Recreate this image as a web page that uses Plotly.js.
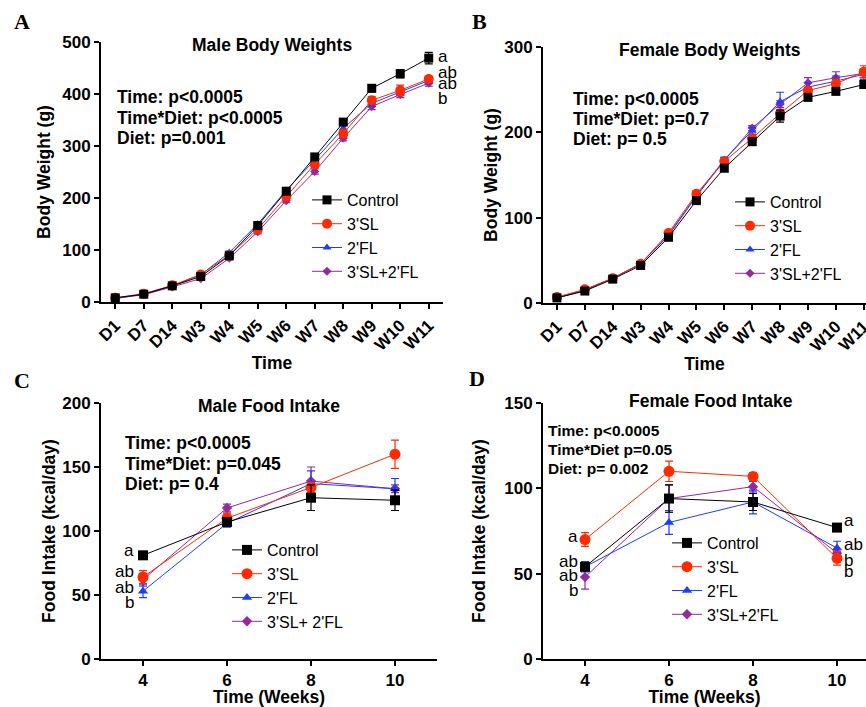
<!DOCTYPE html>
<html>
<head>
<meta charset="utf-8">
<script src="https://cdn.plot.ly/plotly-3.0.1.min.js"></script>
<style>
html,body{margin:0;padding:0;background:#fff;}
#chart{width:866px;height:707px;}
</style>
</head>
<body>
<div id="chart"></div>
<script>
// ---------- DATA ----------
var timeCats = ['D1','D7','D14','W3','W4','W5','W6','W7','W8','W9','W10','W11'];
var seriesNames = ['Control', "3'SL", "2'FL", "3'SL+2'FL"];
var seriesNamesC = ['Control', "3'SL", "2'FL", "3'SL+ 2'FL"];

// Panel A: Male body weights (g)
var maleBW_control = [8, 15, 31, 49, 89, 147, 213, 279, 346, 411, 439, 469];
var maleBW_3SL     = [8, 16, 32, 53, 90, 140, 203, 265, 324, 388, 407, 429];
var maleBW_2FL     = [7, 15, 31, 52, 95, 150, 215, 273, 334, 382, 404, 426];
var maleBW_combo   = [7, 14, 29, 45, 84, 135, 195, 251, 315, 376, 399, 421];
var maleBW_controlErr = [1, 1, 2, 2, 3, 4, 5, 5, 6, 7, 8, 11];
var maleBW_3SLErr     = [1, 1, 1, 2, 3, 4, 5, 6, 6, 7, 10, 5];
var maleBW_2FLErr     = [1, 1, 1, 2, 3, 4, 4, 5, 6, 6, 6, 6];
var maleBW_comboErr   = [1, 1, 1, 2, 3, 4, 4, 5, 5, 6, 6, 6];

// Panel B: Female body weights (g)
var femaleBW_control = [6, 14, 28, 44, 77, 120, 158, 189, 219, 241, 248, 256];
var femaleBW_3SL     = [7, 16, 29, 46, 82, 128, 166, 193, 222, 249, 257, 271];
var femaleBW_2FL     = [6, 15, 29, 46, 80, 126, 168, 202, 236, 253, 260, 268];
var femaleBW_combo   = [6, 15, 29, 46, 79, 125, 167, 205, 233, 258, 264, 269];
var femaleBW_controlErr = [1, 1, 1, 2, 3, 3, 4, 4, 7, 4, 3, 4];
var femaleBW_3SLErr     = [1, 1, 1, 2, 2, 3, 3, 4, 4, 4, 5, 7];
var femaleBW_2FLErr     = [1, 1, 1, 2, 2, 3, 3, 4, 11, 5, 6, 6];
var femaleBW_comboErr   = [1, 1, 1, 2, 2, 3, 3, 3, 4, 6, 7, 5];

// Panels C/D: food intake (kcal/day) by week
var weeks = [4, 6, 8, 10];
var maleFI_control = [81, 107, 126, 124];
var maleFI_3SL     = [64, 110, 134, 160];
var maleFI_2FL     = [53, 106, 137, 133];
var maleFI_combo   = [62, 118, 139, 133];
var maleFI_controlErr = [1, 2, 10, 8];
var maleFI_3SLErr     = [5, 4, 4, 11];
var maleFI_2FLErr     = [5, 3, 10, 8];
var maleFI_comboErr   = [5, 3, 11, 3];

var femaleFI_control = [54, 94, 92, 77];
var femaleFI_3SL     = [70, 110, 107, 59];
var femaleFI_2FL     = [54, 80, 92, 65];
var femaleFI_combo   = [48, 94, 101, 62];
var femaleFI_controlErr = [2, 8, 5, 2];
var femaleFI_3SLErr     = [4, 6, 2, 4];
var femaleFI_2FLErr     = [3, 7, 7, 4];
var femaleFI_comboErr   = [7, 8, 3, 2];

// Significance letters and the y-values they sit at
var maleBWLetters = ['a', 'ab', 'ab', 'b'];
var maleBWLetterY = [473, 442, 421, 392];
var maleFILetters = ['a', 'ab', 'ab', 'b'];
var maleFILetterY = [85, 68, 56, 44];
var femaleFILetters4 = ['a', 'ab', 'ab', 'b'];
var femaleFILetterY4 = [72, 57, 49, 40];
var femaleFILetters10 = ['a', 'ab', 'b', 'b'];
var femaleFILetterY10 = [81, 67, 58, 51];

var statsA = ['Time: p<0.0005', 'Time*Diet: p<0.0005', 'Diet: p=0.001'];
var statsB = ['Time: p<0.0005', 'Time*Diet: p=0.7', 'Diet: p= 0.5'];
var statsC = ['Time: p<0.0005', 'Time*Diet: p=0.045', 'Diet: p= 0.4'];
var statsD = ['Time: p<0.0005', 'Time*Diet p=0.05', 'Diet: p= 0.002'];

// ---------- STYLE ----------
var W = 866, H = 707;
var FONT = 'Liberation Sans, Arial, Helvetica, sans-serif';
var SERIF = 'Liberation Serif, Times New Roman, serif';
var stylesBW = [
  {color: '#000000', symbol: 'square', size: 9},
  {color: '#ff2a00', symbol: 'circle', size: 10},
  {color: '#1f3cff', symbol: 'triangle-up', size: 8},
  {color: '#932a9e', symbol: 'diamond', size: 7}
];
var stylesFI = [
  {color: '#000000', symbol: 'square', size: 10},
  {color: '#ff2a00', symbol: 'circle', size: 11},
  {color: '#1f3cff', symbol: 'triangle-up', size: 9},
  {color: '#932a9e', symbol: 'diamond', size: 8}
];
function px2x(p){ return p / W; }
function px2y(p){ return 1 - p / H; }

var traces = [];
function addPanel(xs, ys, errs, names, styles, xa, ya, legendId){
  // add in reverse so Control draws on top; legend order is reversed back
  for (var i = ys.length - 1; i >= 0; i--) {
    var s = styles[i];
    traces.push({
      type: 'scatter', mode: 'lines+markers',
      x: xs, y: ys[i], name: names[i],
      xaxis: xa, yaxis: ya, legend: legendId,
      line: {color: s.color, width: 1},
      marker: {color: s.color, symbol: s.symbol, size: s.size},
      error_y: {type: 'data', array: errs[i], visible: true, color: s.color, thickness: 1.2, width: 4},
      cliponaxis: false
    });
  }
}
addPanel(timeCats, [maleBW_control, maleBW_3SL, maleBW_2FL, maleBW_combo],
  [maleBW_controlErr, maleBW_3SLErr, maleBW_2FLErr, maleBW_comboErr], seriesNames, stylesBW, 'x', 'y', 'legend');
addPanel(timeCats, [femaleBW_control, femaleBW_3SL, femaleBW_2FL, femaleBW_combo],
  [femaleBW_controlErr, femaleBW_3SLErr, femaleBW_2FLErr, femaleBW_comboErr], seriesNames, stylesBW, 'x2', 'y2', 'legend2');
addPanel(weeks, [maleFI_control, maleFI_3SL, maleFI_2FL, maleFI_combo],
  [maleFI_controlErr, maleFI_3SLErr, maleFI_2FLErr, maleFI_comboErr], seriesNamesC, stylesFI, 'x3', 'y3', 'legend3');
addPanel(weeks, [femaleFI_control, femaleFI_3SL, femaleFI_2FL, femaleFI_combo],
  [femaleFI_controlErr, femaleFI_3SLErr, femaleFI_2FLErr, femaleFI_comboErr], seriesNames, stylesFI, 'x4', 'y4', 'legend4');

var tickFont = {family: FONT, size: 17, color: '#000', weight: 'bold'};
var titleFont = {family: FONT, size: 17.5, color: '#000', weight: 'bold'};
function axisBase(extra){
  var a = {
    showline: true, linewidth: 2, linecolor: '#000',
    ticks: 'outside', ticklen: 5, tickwidth: 2, tickcolor: '#000',
    showgrid: false, zeroline: false, tickfont: tickFont, fixedrange: true
  };
  for (var k in extra) a[k] = extra[k];
  return a;
}

var layout = {
  width: W, height: H,
  margin: {l: 0, r: 0, t: 0, b: 0},
  paper_bgcolor: '#fff', plot_bgcolor: 'rgba(0,0,0,0)',
  showlegend: true,
  xaxis: axisBase({domain: [px2x(101), px2x(443)], anchor: 'y', type: 'category',
    categoryarray: timeCats, range: [-0.5, 11.5], tickangle: -45,
    title: {text: 'Time', font: titleFont, standoff: 3}}),
  yaxis: axisBase({domain: [px2y(302), px2y(42)], anchor: 'x', range: [0, 500],
    tickvals: [0, 100, 200, 300, 400, 500],
    title: {text: 'Body Weight (g)', font: titleFont, standoff: 7}}),
  xaxis2: axisBase({domain: [px2x(543), 1], anchor: 'y2', type: 'category',
    categoryarray: timeCats, range: [-0.5, 11.08], tickangle: -45,
    title: {text: 'Time', font: titleFont, standoff: 3}}),
  yaxis2: axisBase({domain: [px2y(303), px2y(47)], anchor: 'x2', range: [0, 300],
    tickvals: [0, 100, 200, 300],
    title: {text: 'Body Weight (g)', font: titleFont}}),
  xaxis3: axisBase({domain: [px2x(101), px2x(437)], anchor: 'y3', range: [3, 11],
    tickvals: weeks,
    title: {text: 'Time (Weeks)', font: titleFont, standoff: 6}}),
  yaxis3: axisBase({domain: [px2y(659), px2y(403)], anchor: 'x3', range: [0, 200],
    tickvals: [0, 50, 100, 150, 200],
    title: {text: 'Food Intake (kcal/day)', font: titleFont}}),
  xaxis4: axisBase({domain: [px2x(543), 1], anchor: 'y4', range: [3, 10.69],
    tickvals: weeks,
    title: {text: 'Time (Weeks)', font: titleFont, standoff: 6}}),
  yaxis4: axisBase({domain: [px2y(659), px2y(403)], anchor: 'x4', range: [0, 150],
    tickvals: [0, 50, 100, 150],
    title: {text: 'Food Intake (kcal/day)', font: titleFont, standoff: 14}}),
  annotations: []
};

function legendCfg(xPx, yPx){
  return {
    x: px2x(xPx), y: px2y(yPx), xanchor: 'left', yanchor: 'middle',
    traceorder: 'reversed', bgcolor: 'rgba(0,0,0,0)', borderwidth: 0,
    font: {family: FONT, size: 16, color: '#000'}, itemwidth: 30
  };
}
layout.legend = legendCfg(307, 236);
layout.legend2 = legendCfg(730, 238);
layout.legend3 = legendCfg(227, 586);
layout.legend4 = legendCfg(667, 579);

var ann = layout.annotations;
function paperText(text, xPx, yPx, font, xanchor){
  ann.push({xref: 'paper', yref: 'paper', x: px2x(xPx), y: px2y(yPx), text: text,
    showarrow: false, xanchor: xanchor || 'center', yanchor: 'middle', align: 'left', font: font});
}
var letterFont = {family: SERIF, size: 22, color: '#000', weight: 'bold'};
paperText('A', 22, 22, letterFont);
paperText('B', 479, 22, letterFont);
paperText('C', 22, 380, letterFont);
paperText('D', 477, 378, letterFont);

var panelTitleFont = {family: FONT, size: 17.5, color: '#000', weight: 'bold'};
paperText('Male Body Weights', 272, 45, panelTitleFont);
paperText('Female Body Weights', 710, 50, panelTitleFont);
paperText('Male Food Intake', 269, 406, panelTitleFont);
paperText('Female Food Intake', 711, 401, panelTitleFont);

var statFont = {family: FONT, size: 17.5, color: '#000', weight: 'bold'};
var statFontD = {family: FONT, size: 15.5, color: '#000', weight: 'bold'};
function statBlock(lines, xPx, yFirstPx, gapPx, font){
  for (var i = 0; i < lines.length; i++) paperText(lines[i], xPx, yFirstPx + i * gapPx, font, 'left');
}
statBlock(statsA, 115, 97, 20.5, statFont);
statBlock(statsB, 571, 99, 20, statFont);
statBlock(statsC, 123, 443, 20.7, statFont);
statBlock(statsD, 546, 431, 18.5, statFontD);

var sigFont = {family: FONT, size: 17, color: '#000'};
function letters(arr, yArr, xVal, xa, ya, xanchor, xshift){
  for (var i = 0; i < arr.length; i++) {
    ann.push({xref: xa, yref: ya, x: xVal, y: yArr[i], text: arr[i], showarrow: false,
      xanchor: xanchor, yanchor: 'middle', xshift: xshift, font: sigFont});
  }
}
letters(maleBWLetters, maleBWLetterY, 'W11', 'x', 'y', 'left', 7);
letters(maleFILetters, maleFILetterY, 4, 'x3', 'y3', 'right', -7);
letters(femaleFILetters4, femaleFILetterY4, 4, 'x4', 'y4', 'right', -5);
letters(femaleFILetters10, femaleFILetterY10, 10, 'x4', 'y4', 'left', 5);

Plotly.newPlot('chart', traces, layout, {displayModeBar: false, staticPlot: true});
</script>
</body>
</html>
